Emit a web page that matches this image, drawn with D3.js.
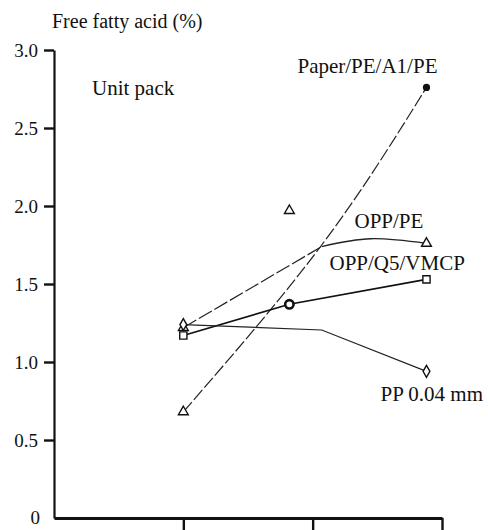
<!DOCTYPE html>
<html>
<head>
<meta charset="utf-8">
<script src="https://cdn.jsdelivr.net/npm/d3@7/dist/d3.min.js"></script>
<style>
  html, body { margin: 0; padding: 0; background: #fff; }
  svg { display: block; }
  text { font-family: "Liberation Serif", "Times New Roman", serif; fill: #111; }
</style>
</head>
<body>
<svg id="chart" width="488" height="530"></svg>
<script>
// Storage points on the time axis (no labels printed on this axis)
const xTicks = [1, 2, 3];
const yTicks = [0, 0.5, 1.0, 1.5, 2.0, 2.5, 3.0];

// Sampling positions of the measured points
const sampleX = [1, 1.82, 2.88];

// Free fatty acid (%) per packaging film
const paperValues = [0.68, null, 2.76];   // Paper/PE/A1/PE
const oppPeValues = [1.22, 1.97, 1.76];   // OPP/PE
const oppQ5Values = [1.17, 1.37, 1.53];   // OPP/Q5/VMCP
const ppValues    = [1.24, null, 0.94];   // PP 0.04 mm

// Hand-drawn trend lines as printed (x, value)
const paperTrend = [[1, 0.68], [2.07, 1.75], [2.88, 2.76]];
const oppPeRise  = [[1, 1.22], [2.07, 1.74]];
const oppPeHump  = [[2.07, 1.74], [2.45, 1.79], [2.88, 1.76]];
const oppQ5Trend = [[1, 1.17], [1.82, 1.37], [2.88, 1.53]];
const ppTrend    = [[1, 1.24], [2.07, 1.205], [2.88, 0.94]];

const svg = d3.select("#chart");
const x = d3.scaleLinear().domain([0, 3]).range([54, 442]);
const y = d3.scaleLinear().domain([0, 3]).range([518, 50]);

// Axes
const yAxis = d3.axisLeft(y)
  .tickValues(yTicks)
  .tickSize(10)
  .tickSizeOuter(0)
  .tickPadding(6)
  .tickFormat(d => d === 0 ? "0" : d3.format(".1f")(d));
const gy = svg.append("g").attr("transform", `translate(${x(0)},0)`).call(yAxis);
gy.select(".domain").attr("stroke", "#111").attr("stroke-width", 2.2);
gy.selectAll(".tick line").attr("stroke", "#111").attr("stroke-width", 2.4);
gy.selectAll(".tick").filter(d => d === 0).select("line").remove();
gy.selectAll(".tick text")
  .style("font-family", '"Liberation Serif", serif')
  .style("font-size", "19px")
  .attr("fill", "#111");
gy.selectAll(".tick").filter(d => d === 0).select("text").attr("dy", "0.3em").attr("x", -14);

const xAxis = d3.axisBottom(x)
  .tickValues(xTicks)
  .tickSize(12)
  .tickSizeOuter(0)
  .tickFormat("");
const gx = svg.append("g").attr("transform", `translate(0,${y(0)})`).call(xAxis);
gx.select(".domain").attr("stroke", "#111").attr("stroke-width", 2.8);
gx.selectAll(".tick line").attr("stroke", "#111").attr("stroke-width", 2.4);

// Lines
const line = d3.line().x(d => x(d[0])).y(d => y(d[1]));
const smooth = d3.line().x(d => x(d[0])).y(d => y(d[1])).curve(d3.curveNatural);

svg.append("path").datum(paperTrend).attr("d", smooth)
  .attr("fill", "none").attr("stroke", "#222").attr("stroke-width", 1.2)
  .attr("stroke-dasharray", "13,3");
svg.append("path").datum(oppPeRise).attr("d", line)
  .attr("fill", "none").attr("stroke", "#222").attr("stroke-width", 1.2)
  .attr("stroke-dasharray", "15,3");
svg.append("path").datum(oppPeHump).attr("d", smooth)
  .attr("fill", "none").attr("stroke", "#222").attr("stroke-width", 1.3);
svg.append("path").datum(oppQ5Trend).attr("d", line)
  .attr("fill", "none").attr("stroke", "#111").attr("stroke-width", 1.7);
svg.append("path").datum(ppTrend).attr("d", line)
  .attr("fill", "none").attr("stroke", "#222").attr("stroke-width", 1.2);

// Markers
const tri = d3.symbol().type(d3.symbolTriangle).size(42);
const sq = d3.symbol().type(d3.symbolSquare).size(52);
const dia = d3.symbol().type(d3.symbolDiamond).size(40);

function marks(values, kind) {
  values.forEach((v, i) => {
    if (v === null) return;
    const cx = x(sampleX[i]), cy = y(v);
    if (kind === "dot") {
      svg.append("circle").attr("cx", cx).attr("cy", cy).attr("r", 3.6).attr("fill", "#111");
    } else if (kind === "ring") {
      svg.append("circle").attr("cx", cx).attr("cy", cy).attr("r", 4.2)
        .attr("fill", "#fff").attr("stroke", "#111").attr("stroke-width", 2.6);
    } else {
      const gen = kind === "tri" ? tri : kind === "sq" ? sq : dia;
      svg.append("path").attr("d", gen()).attr("transform", `translate(${cx},${cy})`)
        .attr("fill", "#fff").attr("stroke", "#111").attr("stroke-width", 1.4);
    }
  });
}
// Paper/PE/A1/PE: open triangle at start, filled dot at end
marks([paperValues[0], null, null], "tri");
marks([null, null, paperValues[2]], "dot");
marks(oppPeValues, "tri");
marks([oppQ5Values[0], null, oppQ5Values[2]], "sq");
marks([null, oppQ5Values[1], null], "ring");
marks(ppValues, "dia");

// Text
svg.append("text").attr("x", 52).attr("y", 28).style("font-size", "20px").text("Free fatty acid (%)");
svg.append("text").attr("x", 92).attr("y", 95).style("font-size", "21px").text("Unit pack");

const labels = [
  { t: "Paper/PE/A1/PE", v: paperValues[2], dx: -129, dy: -14 },
  { t: "OPP/PE",         v: oppPeValues[2], dx: -72,  dy: -15 },
  { t: "OPP/Q5/VMCP",    v: oppQ5Values[2], dx: -97,  dy: -9 },
  { t: "PP 0.04 mm",     v: ppValues[2],    dx: -46,  dy: 30 }
];
labels.forEach(l => {
  svg.append("text")
    .attr("x", x(sampleX[2]) + l.dx)
    .attr("y", y(l.v) + l.dy)
    .style("font-size", "21px")
    .text(l.t);
});
</script>
</body>
</html>
